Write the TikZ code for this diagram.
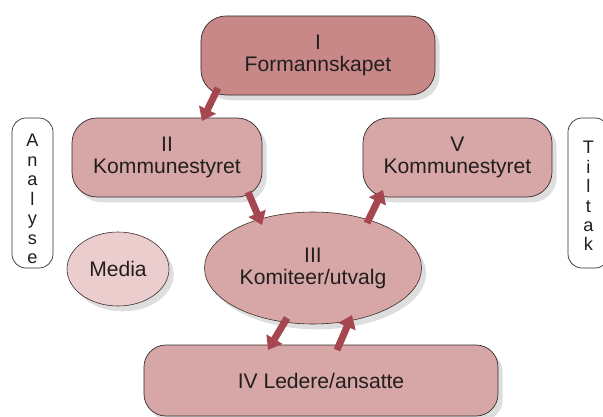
\documentclass[tikz,border=0pt]{standalone}
\usepackage{fontspec}
\setmainfont{Liberation Sans}
\usetikzlibrary{shapes.geometric, arrows.meta, calc, shadows}
\definecolor{formannred}{RGB}{200,136,136}
\definecolor{boxrose}{RGB}{214,167,166}
\definecolor{mediapink}{RGB}{234,205,204}
\definecolor{arrowred}{RGB}{166,70,80}
\definecolor{edgegray}{RGB}{55,45,45}
\definecolor{textgray}{RGB}{35,30,30}

\begin{document}
\begin{tikzpicture}[x=0.03cm, y=-0.03cm,
  softshadow/.style={drop shadow={fill=black, opacity=0.13, shadow xshift=0.14cm, shadow yshift=-0.16cm}},
  levelbox/.style={draw=edgegray, line width=0.6pt, rounded corners=0.75cm, align=center,
    text=textgray, font=\fontsize{18}{18.7}\selectfont, inner sep=0pt, softshadow},
  levelellipse/.style={ellipse, draw=edgegray, line width=0.5pt, align=center,
    text=textgray, font=\fontsize{18}{18.7}\selectfont, inner sep=0pt, softshadow},
  sidebox/.style={draw=edgegray, line width=0.6pt, rounded corners=0.42cm, fill=white, align=center,
    text=textgray, font=\fontsize{15.5}{16.6}\selectfont, minimum width=1.23cm, minimum height=4.5cm, inner sep=0pt},
  bigarrow/.style={arrowred, line width=0.21cm, line cap=butt,
    -{Triangle[width=0.54cm, length=0.38cm]}}]
  % Page frame
  \useasboundingbox (0,0) rectangle (603,417);

  % Side labels
  \node[sidebox] (analyse) at (32.5,193) {\rule{0pt}{21pt}A\\n\\a\\l\\y\\s\\e};
  \node[sidebox] (tiltak) at (588.5,193) {\rule{0pt}{16pt}T\\i\\l\\t\\a\\k};

  % Levels
  \node[levelbox, fill=formannred, minimum width=7.02cm, minimum height=2.37cm] (formann) at (318,55.5) {I\\Formannskapet};
  \node[levelbox, fill=boxrose, minimum width=5.7cm, minimum height=2.37cm] (komII) at (167,157.5) {II\\Kommunestyret};
  \node[levelbox, fill=boxrose, minimum width=5.67cm, minimum height=2.37cm] (komV) at (457.5,157.5) {V\\Kommunestyret};
  \node[levelellipse, fill=mediapink, minimum width=3.06cm, minimum height=2.22cm] (media) at (118,269) {Media};
  \node[levelellipse, fill=boxrose, minimum width=6.51cm, minimum height=3.36cm] (komite) at (313,268) {III\\Komiteer/utvalg};
  \node[levelbox, fill=boxrose, rounded corners=0.66cm, minimum width=10.62cm, minimum height=2.13cm] (ledere) at (321,380.5) {IV Ledere/ansatte};

  % Flow arrows
  \draw[bigarrow] ($(formann)+(-100,32.5)$) -- ($(komII)+(35,-36.5)$);
  \draw[bigarrow] ($(komII)+(81,34.5)$) -- ($(komite)+(-51,-43)$);
  \draw[bigarrow] ($(komite)+(54,-45)$) -- ($(komV)+(-74.5,32.5)$);
  \draw[bigarrow] ($(komite)+(-26,50)$) -- ($(ledere)+(-53,-30.5)$);
  \draw[bigarrow] ($(ledere)+(16,-30.5)$) -- ($(komite)+(39,47)$);
\end{tikzpicture}
\end{document}
